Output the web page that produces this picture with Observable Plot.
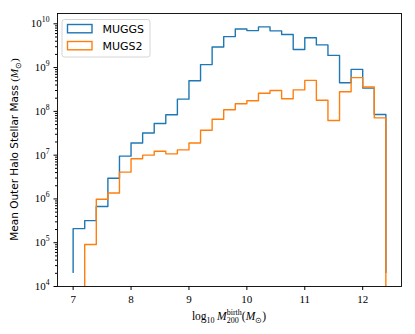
<!DOCTYPE html>
<html>
<head>
<meta charset="utf-8">
<script src="https://cdn.jsdelivr.net/npm/d3@7"></script>
<script src="https://cdn.jsdelivr.net/npm/@observablehq/plot@0.6"></script>
<style>
  html, body { margin: 0; padding: 0; background: white; }
  #chart svg { display: block; }
</style>
</head>
<body>
<div id="chart"></div>
<script>
// ---- data ----
const binLeft = [7.0, 7.2, 7.4, 7.6, 7.8, 8.0, 8.2, 8.4, 8.6, 8.8,
                 9.0, 9.2, 9.4, 9.6, 9.8, 10.0, 10.2, 10.4, 10.6, 10.8,
                 11.0, 11.2, 11.4, 11.6, 11.8, 12.0, 12.2];
const binWidth = 0.2;
const seriesNames = ["MUGGS", "MUGS2"];
const seriesColors = ["#1f77b4", "#ff7f0e"];
const muggs = [2.1e5, 3.2e5, 6.7e5, 2.96e6, 9.5e6, 1.9e7, 3.2e7, 5.3e7, 8.4e7, 1.9e8,
               5.0e8, 1.17e9, 2.96e9, 5.1e9, 7.6e9, 7.0e9, 8.5e9, 6.9e9, 5.7e9, 2.6e9,
               4.8e9, 3.3e9, 1.9e9, 4.5e8, 9.1e8, 3.4e8, 8.5e7];
const mugs2 = [null, 9.1e4, 9.8e5, 1.37e6, 4.1e6, 8.3e6, 1.0e7, 1.23e7, 1.07e7, 1.32e7,
               1.9e7, 3.7e7, 6.6e7, 1.09e8, 1.49e8, 1.75e8, 2.6e8, 3.0e8, 1.95e8, 3.1e8,
               5.1e8, 1.8e8, 6.2e7, 2.8e8, 5.9e8, 3.6e8, 7.1e7];
const xTicks = [7, 8, 9, 10, 11, 12];
const yMajor = [1e4, 1e5, 1e6, 1e7, 1e8, 1e9, 1e10];

// step outline like matplotlib histtype="step" on log axis (bottom = min/10)
function stepPoints(values) {
  const idx = values.map((v, i) => i).filter(i => values[i] != null && values[i] > 0);
  const base = d3.min(idx, i => values[i]) / 10;
  const pts = [];
  const first = idx[0], last = idx[idx.length - 1];
  pts.push({x: binLeft[first], y: base});
  for (const i of idx) {
    pts.push({x: binLeft[i], y: values[i]});
    pts.push({x: binLeft[i] + binWidth, y: values[i]});
  }
  pts.push({x: binLeft[last] + binWidth, y: base});
  return pts;
}

const yMinor = [];
for (let e = 4; e <= 10; e++) for (let k = 2; k <= 9; k++) {
  const v = k * Math.pow(10, e);
  if (v <= 1.72e10) yMinor.push(v);
}

const W = 415, H = 334, mL = 57, mR = 14, mT = 13, mB = 48;

const svg = Plot.plot({
  width: W, height: H,
  marginLeft: mL, marginRight: mR, marginTop: mT, marginBottom: mB,
  x: {domain: [6.73, 12.67]},
  y: {type: "log", domain: [1e4, 1.72e10]},
  style: {fontFamily: "'Liberation Serif', serif", fontSize: "11px", background: "white", color: "black"},
  marks: [
    Plot.line(stepPoints(muggs), {x: "x", y: "y", stroke: seriesColors[0], strokeWidth: 1.4, clip: true}),
    Plot.line(stepPoints(mugs2), {x: "x", y: "y", stroke: seriesColors[1], strokeWidth: 1.4, clip: true}),
    Plot.frame({stroke: "black", strokeWidth: 0.9}),
    Plot.axisX({ticks: xTicks, tickSize: 4, tickPadding: 5, label: null, tickFormat: d => String(d)}),
    Plot.axisY({ticks: yMajor, tickSize: 3.5, tickPadding: 4.5, label: null,
                tickFormat: d => "10^" + Math.round(Math.log10(d))}),
    Plot.axisY({ticks: yMinor, tickSize: 2, label: null, tickFormat: () => ""})
  ]
});

const root = d3.select(svg);

// superscript exponents on y tick labels
root.selectAll("text").each(function() {
  const m = this.textContent.match(/^10\^(\d+)$/);
  if (m) {
    const t = d3.select(this);
    t.text("");
    t.append("tspan").text("10");
    t.append("tspan").attr("font-size", "7.7px").attr("dy", "-5").text(m[1]);
  }
});

// x label: log10 M_200^birth (M_sun)
const cx = mL + (W - mL - mR) / 2;
const xl = root.append("text")
  .attr("x", cx).attr("y", 320)
  .attr("text-anchor", "middle")
  .attr("font-family", "'Liberation Serif', serif")
  .attr("font-size", "11.5px").attr("fill", "black");
xl.append("tspan").text("log");
xl.append("tspan").attr("font-size", "8px").attr("dy", 2.5).text("10");
xl.append("tspan").attr("dy", -2.5).attr("dx", 2.5).attr("font-style", "italic").text("M");
xl.append("tspan").attr("font-size", "8px").attr("dy", 2.5).text("200");
xl.append("tspan").attr("font-size", "8px").attr("dx", -12).attr("dy", -7.5).text("birth");
xl.append("tspan").attr("dy", 5).text("(");
xl.append("tspan").attr("font-style", "italic").text("M");
xl.append("tspan").attr("font-size", "8px").attr("dy", 2.5).text("\u2299");
xl.append("tspan").attr("dy", -2.5).text(")");

// y label
const cy = mT + (H - mT - mB) / 2;
const yl = root.append("text")
  .attr("transform", `translate(18,${cy}) rotate(-90)`)
  .attr("text-anchor", "middle")
  .attr("font-family", "'DejaVu Sans', sans-serif")
  .attr("font-size", "10.5px").attr("fill", "black");
yl.append("tspan").text("Mean Outer Halo Stellar Mass ");
yl.append("tspan").attr("font-family", "'Liberation Serif', serif").attr("font-size", "11px").text("(");
yl.append("tspan").attr("font-family", "'Liberation Serif', serif").attr("font-size", "11px").attr("font-style", "italic").text("M");
yl.append("tspan").attr("font-family", "'Liberation Serif', serif").attr("font-size", "7.7px").attr("dy", 2.5).text("\u2299");
yl.append("tspan").attr("font-family", "'Liberation Serif', serif").attr("font-size", "11px").attr("dy", -2.5).text(")");

// legend
const lg = root.append("g");
lg.append("rect").attr("x", 62).attr("y", 19.5).attr("width", 88).attr("height", 37.5)
  .attr("rx", 2.5).attr("fill", "white").attr("fill-opacity", 0.8)
  .attr("stroke", "#d0d0d0").attr("stroke-width", 0.9);
seriesNames.forEach((name, i) => {
  const y0 = 24.5 + i * 17;
  lg.append("rect").attr("x", 67.5).attr("y", y0).attr("width", 24.5).attr("height", 8.3)
    .attr("fill", "none").attr("stroke", seriesColors[i]).attr("stroke-width", 1.4);
  lg.append("text").attr("x", 102.5).attr("y", y0 + 8.2)
    .attr("text-anchor", "start")
    .attr("font-family", "'DejaVu Sans', sans-serif").attr("font-size", "11px")
    .attr("fill", "black").text(name);
});

document.getElementById("chart").appendChild(svg);
</script>
</body>
</html>
